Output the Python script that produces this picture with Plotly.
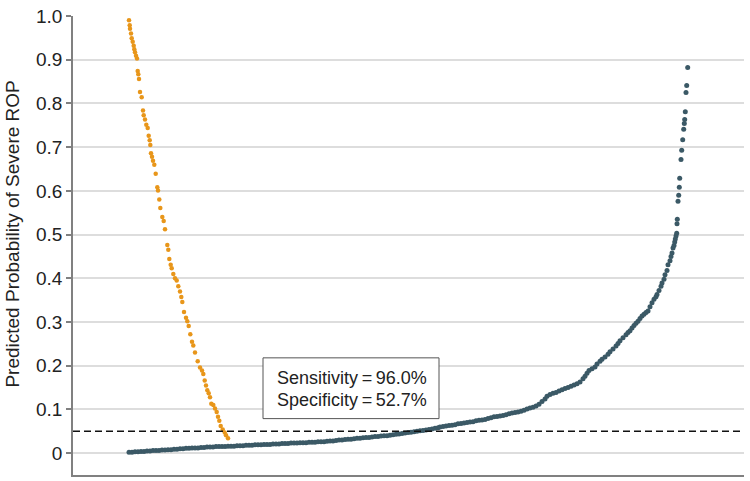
import plotly.graph_objects as go

# rank position along the x axis and predicted probability
orange_rank = [
    0, 0.7, 1, 2, 2.7, 3.7, 4.7, 5.3, 6, 7, 8, 8.7, 9.3, 10, 11, 12.7, 14, 14.7,
    16, 17.3, 18.7, 19.7, 20.7, 21.3, 22, 23, 24, 25.3, 26.7, 28.3, 29, 30.3,
    31.3, 33.3, 34.7, 36, 38.3, 39.3, 40.3, 41.7, 42.7, 44.3, 46, 47.7, 49.3,
    51, 52.3, 53.3, 55, 57, 58.3, 59.7, 61.3, 63, 64.3, 66, 68.7, 71, 73, 74.3,
    75.7, 77, 78.3, 79.7, 81, 82.3, 84.3, 86, 87.7, 89, 90.3, 91.7, 93.7, 95.7,
    97, 99,
]
orange_prob = [
    0.990, 0.979, 0.971, 0.960, 0.949, 0.941, 0.932, 0.924, 0.917, 0.909, 0.903,
    0.874, 0.867, 0.856, 0.826, 0.814, 0.784, 0.773, 0.763, 0.751, 0.744, 0.726,
    0.716, 0.705, 0.686, 0.678, 0.669, 0.660, 0.639, 0.608, 0.601, 0.580, 0.561,
    0.540, 0.531, 0.512, 0.476, 0.465, 0.444, 0.431, 0.423, 0.410, 0.400, 0.395,
    0.382, 0.370, 0.357, 0.346, 0.323, 0.310, 0.302, 0.291, 0.272, 0.255, 0.246,
    0.230, 0.210, 0.196, 0.189, 0.181, 0.166, 0.155, 0.144, 0.137, 0.128, 0.113,
    0.110, 0.102, 0.094, 0.083, 0.074, 0.062, 0.054, 0.047, 0.041, 0.034,
]

blue_rank = [
    0, 3, 6, 9, 12, 15, 18, 21, 24, 27, 30, 33, 36, 39, 42, 45, 48, 51, 54, 57,
    60, 63, 66, 69, 72, 75, 78, 81, 84, 87, 90, 93, 96, 99, 102, 105, 108, 111,
    114, 117, 120, 123, 126, 129, 132, 135, 138, 141, 144, 147, 150, 153, 156,
    159, 162, 165, 168, 171, 174, 177, 180, 183, 186, 189, 192, 195, 198, 201,
    204, 207, 210, 213, 216, 219, 222, 225, 228, 231, 234, 237, 240, 243, 246,
    249, 252, 255, 258, 261, 264, 267, 270, 273, 276, 279, 282, 285, 288, 291,
    294, 297, 300, 303, 306, 309, 311, 314, 317, 320, 323, 326, 329, 332, 335,
    338, 341, 344, 347, 350, 353, 356, 359, 362, 365, 368, 371, 374, 377, 380,
    383, 386, 389, 392, 395, 398, 401, 404, 407, 410, 413, 416, 418, 421, 424,
    427, 430, 433, 436, 439, 442, 445, 448, 451, 454, 456, 458, 460, 463, 466,
    468, 471, 473, 476, 479, 481, 484, 487, 489, 491, 494, 497, 499, 501, 503,
    505, 507, 509, 511, 513, 515, 517, 519, 521, 523, 525, 527, 528, 530, 532,
    533, 535, 536, 538, 539, 541, 542, 543, 544, 545, 545.7, 546.3, 547, 547.7,
    548, 548.3, 549, 549.7, 550.3, 550.7, 552, 552.7, 553.7, 554.7, 555.3, 555.7,
    556.3, 557, 557.7, 558.7,
]
blue_prob = [
    0.002, 0.002, 0.003, 0.003, 0.004, 0.004, 0.005, 0.005, 0.006, 0.006, 0.006,
    0.007, 0.007, 0.008, 0.008, 0.009, 0.009, 0.010, 0.010, 0.011, 0.011, 0.012,
    0.012, 0.012, 0.013, 0.013, 0.014, 0.014, 0.014, 0.015, 0.015, 0.015, 0.015,
    0.016, 0.016, 0.016, 0.017, 0.017, 0.017, 0.018, 0.018, 0.018, 0.019, 0.019,
    0.019, 0.020, 0.020, 0.020, 0.021, 0.021, 0.021, 0.022, 0.022, 0.022, 0.023,
    0.023, 0.023, 0.024, 0.024, 0.024, 0.025, 0.025, 0.025, 0.026, 0.026, 0.026,
    0.027, 0.028, 0.028, 0.029, 0.030, 0.030, 0.031, 0.032, 0.032, 0.033, 0.034,
    0.034, 0.035, 0.036, 0.036, 0.037, 0.038, 0.038, 0.039, 0.040, 0.040, 0.041,
    0.042, 0.043, 0.044, 0.045, 0.046, 0.047, 0.048, 0.049, 0.050, 0.051, 0.052,
    0.053, 0.054, 0.055, 0.057, 0.058, 0.060, 0.061, 0.062, 0.063, 0.064, 0.065,
    0.067, 0.068, 0.069, 0.070, 0.071, 0.072, 0.074, 0.075, 0.076, 0.077, 0.079,
    0.081, 0.083, 0.084, 0.085, 0.086, 0.088, 0.090, 0.092, 0.093, 0.094, 0.096,
    0.098, 0.101, 0.103, 0.105, 0.108, 0.112, 0.118, 0.124, 0.130, 0.134, 0.137,
    0.139, 0.142, 0.145, 0.148, 0.150, 0.153, 0.156, 0.159, 0.163, 0.170, 0.176,
    0.183, 0.189, 0.193, 0.197, 0.204, 0.210, 0.215, 0.220, 0.226, 0.232, 0.238,
    0.245, 0.251, 0.257, 0.264, 0.271, 0.276, 0.280, 0.286, 0.292, 0.297, 0.302,
    0.308, 0.314, 0.318, 0.322, 0.325, 0.335, 0.344, 0.352, 0.358, 0.363, 0.372,
    0.382, 0.389, 0.398, 0.408, 0.418, 0.431, 0.440, 0.450, 0.458, 0.469, 0.475,
    0.483, 0.490, 0.497, 0.503, 0.525, 0.535, 0.576, 0.590, 0.608, 0.629, 0.672,
    0.693, 0.717, 0.741, 0.754, 0.763, 0.781, 0.825, 0.841, 0.882,
]

y_ticks = [0, 0.1, 0.2, 0.3, 0.4, 0.5, 0.6, 0.7, 0.8, 0.9, 1.0]
y_tick_text = ["0", "0.1", "0.2", "0.3", "0.4", "0.5", "0.6", "0.7", "0.8", "0.9", "1.0"]
threshold = 0.05
stats_lines = ["Sensitivity\u2009=\u200996.0%", "Specificity\u2009=\u200952.7%"]

FONT = "Liberation Sans, Arial, sans-serif"
ORANGE = "#E8961A"
SLATE = "#3B5966"

fig = go.Figure()
fig.add_trace(go.Scatter(
    x=blue_rank, y=blue_prob, mode="markers",
    marker={"size": 5, "color": SLATE, "line": {"width": 0}},
    hoverinfo="skip", showlegend=False,
))
fig.add_trace(go.Scatter(
    x=orange_rank, y=orange_prob, mode="markers",
    marker={"size": 4.5, "color": ORANGE, "line": {"width": 0}},
    hoverinfo="skip", showlegend=False,
))

fig.add_shape(type="line", xref="paper", x0=0, x1=1, y0=threshold, y1=threshold,
              line={"color": "#111", "width": 1.5, "dash": "7px,4px"}, layer="above")
fig.add_shape(type="rect", x0=134, x1=310, y0=0.079, y1=0.218,
              line={"color": "#555", "width": 1}, fillcolor="white", layer="above")
for text, yy in zip(stats_lines, (0.172, 0.122)):
    fig.add_annotation(x=146, y=yy, text=text, showarrow=False, xanchor="left",
                       yanchor="middle", font={"family": FONT, "size": 18, "color": "#222"})

fig.add_annotation(xref="paper", x=-0.0894, y=0.5, text="Predicted Probability of Severe ROP",
                   textangle=-90, showarrow=False, xanchor="center", yanchor="middle",
                   font={"family": FONT, "size": 19, "color": "#222"})

fig.update_layout(
    width=750, height=481,
    margin={"l": 73, "r": 6, "t": 12, "b": 6},
    plot_bgcolor="white", paper_bgcolor="white",
    font={"family": FONT, "size": 19, "color": "#222"},
)
fig.update_xaxes(range=[-56, 615], showticklabels=False, showgrid=False, zeroline=False,
                 showline=True, linecolor="#808080", linewidth=1.5, ticks="")
fig.update_yaxes(range=[-0.05, 1.0], tickvals=y_ticks, ticktext=y_tick_text,
                 showgrid=True, gridcolor="#dddddd", gridwidth=1.5, zeroline=False,
                 showline=True, linecolor="#808080", linewidth=1.5,
                 ticks="outside", ticklen=5, tickcolor="#808080", tickwidth=1.5,
                 tickfont={"size": 19})

# the page's default body margin would shift the chart by 8 px
fig.write_html("out.html", config={"displayModeBar": False},
               post_script="document.body.style.margin = '0';")
